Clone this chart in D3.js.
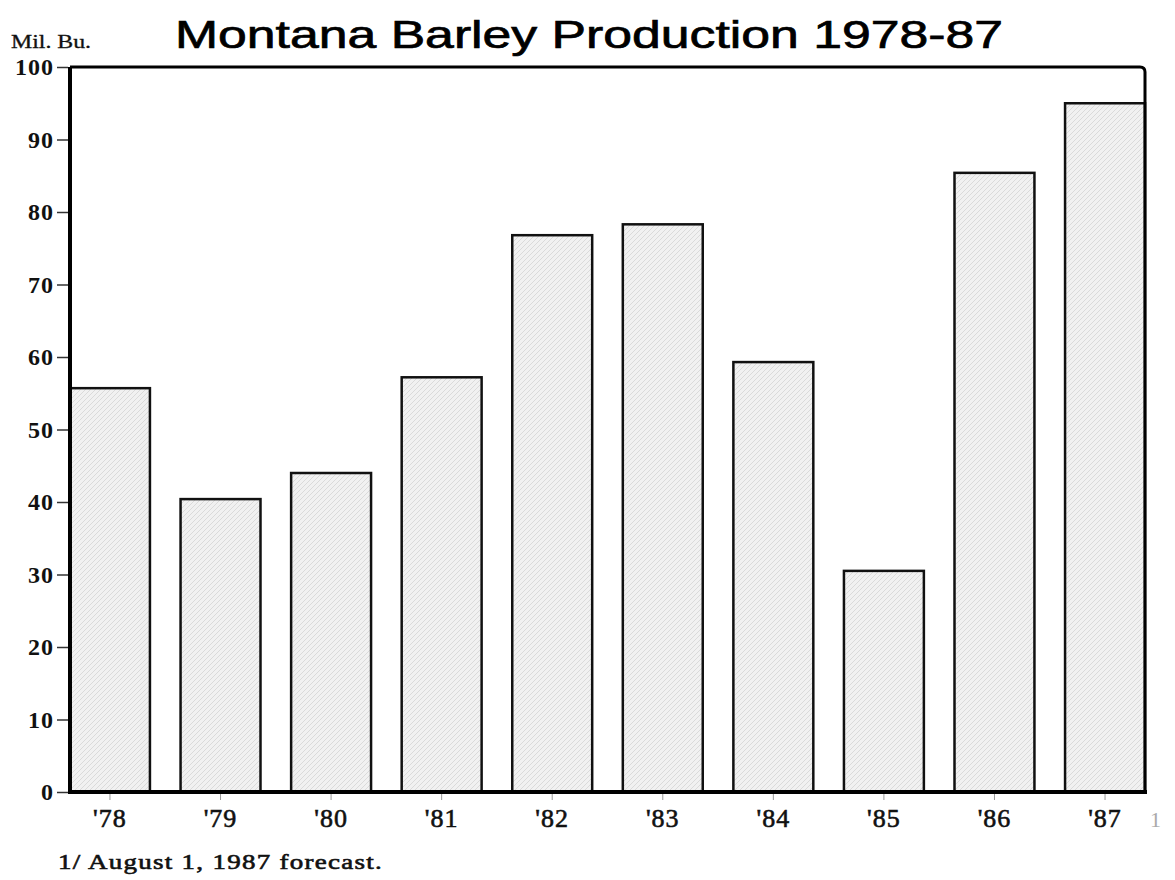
<!DOCTYPE html>
<html>
<head>
<meta charset="utf-8">
<script src="https://cdn.jsdelivr.net/npm/d3@7"></script>
<style>
  body { margin: 0; background: #fff; }
  svg { display: block; }
</style>
</head>
<body>
<div id="chart"></div>
<script>
// Data (million bushels)
var years = ["1978", "1979", "1980", "1981", "1982", "1983", "1984", "1985", "1986", "1987"];
var yearLabels = ["'78", "'79", "'80", "'81", "'82", "'83", "'84", "'85", "'86", "'87"];
var production = [55.7, 40.4, 44.0, 57.2, 76.8, 78.3, 59.3, 30.5, 85.4, 95.0];
var yTicks = [0, 10, 20, 30, 40, 50, 60, 70, 80, 90, 100];

var width = 1175;
var height = 880;

var svg = d3.select("#chart")
  .append("svg")
  .attr("width", width)
  .attr("height", height);

// hatch fill like the old print texture
var defs = svg.append("defs");
var pat = defs.append("pattern")
  .attr("id", "hatch")
  .attr("patternUnits", "userSpaceOnUse")
  .attr("width", 5)
  .attr("height", 5);
pat.append("rect")
  .attr("width", 5)
  .attr("height", 5)
  .attr("fill", "#f1f1f1");
pat.append("path")
  .attr("d", "M0,5 L5,0 M-1,1 L1,-1 M4,6 L6,4")
  .attr("stroke", "#dadada")
  .attr("stroke-width", 1);

// scales
var x = d3.scaleBand()
  .domain(years)
  .range([70, 1145])
  .paddingInner(0.277)
  .paddingOuter(0);

var y = d3.scaleLinear()
  .domain([0, 100])
  .range([792, 67]);

// title + unit label
svg.append("text")
  .attr("x", 175)
  .attr("y", 48)
  .attr("textLength", 828)
  .attr("lengthAdjust", "spacingAndGlyphs")
  .style("font-family", "'Liberation Sans', Arial, sans-serif")
  .style("font-size", "39px")
  .style("stroke", "#000")
  .style("stroke-width", 0.7)
  .style("fill", "#000")
  .text("Montana Barley Production 1978-87");

svg.append("text")
  .attr("x", 11)
  .attr("y", 48)
  .attr("textLength", 80)
  .attr("lengthAdjust", "spacingAndGlyphs")
  .style("font-family", "'Liberation Serif', 'Times New Roman', serif")
  .style("font-size", "19px")
  .style("stroke", "#111")
  .style("stroke-width", 0.3)
  .style("fill", "#111")
  .text("Mil. Bu.");

// bars
svg.append("g")
  .selectAll("rect")
  .data(production)
  .enter()
  .append("rect")
  .attr("x", function(d, i) { return x(years[i]); })
  .attr("y", function(d) { return y(d); })
  .attr("width", x.bandwidth())
  .attr("height", function(d) { return y(0) - y(d); })
  .style("fill", "url(#hatch)")
  .style("stroke", "#111")
  .style("stroke-width", 2.5);

// frame (top, right, left, bottom)
var frame = svg.append("g")
  .style("fill", "none")
  .style("stroke", "#000");
frame.append("path")
  .attr("d", "M70," + y(100) + " H1140 Q1145," + y(100) + " 1145," + (y(100) + 5) + " V" + y(0))
  .style("stroke-width", 3);
frame.append("line")
  .attr("x1", 70).attr("x2", 70)
  .attr("y1", y(100)).attr("y2", y(0) + 2)
  .style("stroke-width", 4);
frame.append("line")
  .attr("x1", 68).attr("x2", 1147)
  .attr("y1", y(0)).attr("y2", y(0))
  .style("stroke-width", 4);

// y axis
var yAxis = svg.append("g")
  .attr("transform", "translate(68,0)")
  .call(d3.axisLeft(y).tickValues(yTicks).tickSize(11).tickPadding(3));
yAxis.select(".domain").remove();
yAxis.selectAll(".tick line")
  .style("stroke", "#333")
  .style("stroke-width", 1.5);
yAxis.selectAll(".tick text")
  .style("font-family", "'Liberation Serif', 'Times New Roman', serif")
  .style("font-weight", "bold")
  .style("font-size", "24px")
  .style("letter-spacing", "1px")
  .style("fill", "#111");

// x axis
var xAxis = svg.append("g")
  .attr("transform", "translate(0,794)")
  .call(d3.axisBottom(x)
    .tickSize(6)
    .tickPadding(9)
    .tickFormat(function(d, i) { return yearLabels[i]; }));
xAxis.select(".domain").remove();
xAxis.selectAll(".tick line")
  .style("stroke", "#999")
  .style("stroke-width", 1);
xAxis.selectAll(".tick text")
  .style("font-family", "'Liberation Serif', 'Times New Roman', serif")
  .style("font-size", "26px")
  .style("letter-spacing", "1px")
  .style("stroke", "#111")
  .style("stroke-width", 0.6)
  .style("fill", "#111");

// footnote marker next to '87
svg.append("text")
  .attr("x", 1150)
  .attr("y", 827)
  .style("font-family", "'Liberation Serif', 'Times New Roman', serif")
  .style("font-size", "22px")
  .style("fill", "#aaa")
  .text("1");

// footnote
svg.append("text")
  .attr("x", 58)
  .attr("y", 869)
  .attr("textLength", 325)
  .attr("lengthAdjust", "spacingAndGlyphs")
  .style("font-family", "'Liberation Serif', 'Times New Roman', serif")
  .style("font-size", "21px")
  .style("letter-spacing", "1px")
  .style("stroke", "#111")
  .style("stroke-width", 0.6)
  .style("fill", "#111")
  .text("1/ August 1, 1987 forecast.");
</script>
</body>
</html>
